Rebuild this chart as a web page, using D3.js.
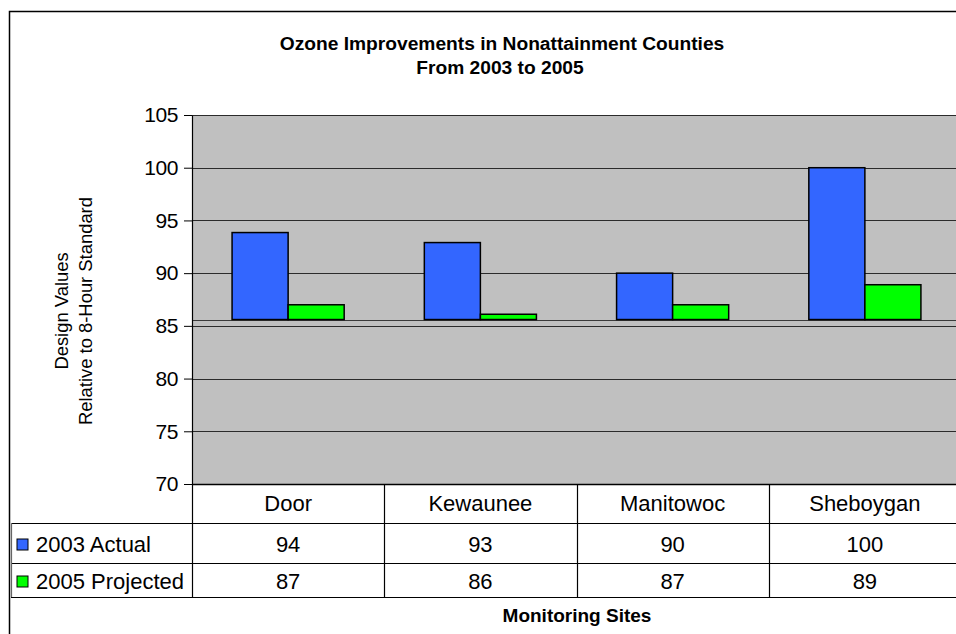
<!DOCTYPE html>
<html><head><meta charset="utf-8">
<script src="https://cdn.jsdelivr.net/npm/d3@7"></script>
<style>
html,body{margin:0;padding:0;background:#fff;}
svg{display:block;font-family:"Liberation Sans",Arial,sans-serif;}
</style></head>
<body>
<svg id="chart" width="956" height="634"></svg>
<script>
const categories = ["Door", "Kewaunee", "Manitowoc", "Sheboygan"];
const seriesNames = ["2003 Actual", "2005 Projected"];
const actual2003 = [93.85, 92.9, 90, 100];
const projected2005 = [87, 86.1, 87, 88.9];
const yTicks = [70, 75, 80, 85, 90, 95, 100, 105];
const axisCross = 85.6;
const seriesColors = ["#3366FF", "#00FF00"];
const seriesValues = [actual2003, projected2005];

const svg = d3.select("#chart");
const W = 956, H = 634;
const plot = {left: 192, right: 961, top: 115, bottom: 484};

// outer border
svg.append("path").attr("d", `M9.5,${H} L9.5,11.5 L${W},11.5`)
  .attr("fill", "none").attr("stroke", "#000").attr("stroke-width", 1.5);

// title
const title = svg.append("text").attr("text-anchor", "middle")
  .attr("font-weight", "bold").attr("font-size", 19.2);
title.append("tspan").attr("x", 502).attr("y", 50).text("Ozone Improvements in Nonattainment Counties");
title.append("tspan").attr("x", 500).attr("y", 74).text("From 2003 to 2005");

const x = d3.scaleBand().domain(categories).range([plot.left, plot.right]).padding(0);
const y = d3.scaleLinear().domain([70, 105]).range([plot.bottom, plot.top]);
const xs = d3.scaleBand().domain(seriesNames).range([0, x.bandwidth()])
  .paddingInner(0).paddingOuter(0.715);

// plot background
svg.append("rect").attr("x", plot.left).attr("y", plot.top)
  .attr("width", plot.right - plot.left).attr("height", plot.bottom - plot.top)
  .attr("fill", "#C0C0C0");

// gridlines
svg.append("g").selectAll("line").data(yTicks.filter(t => t > 70)).join("line")
  .attr("x1", plot.left).attr("x2", plot.right)
  .attr("y1", d => Math.round(y(d)) + 0.5).attr("y2", d => Math.round(y(d)) + 0.5)
  .attr("stroke", "#2b2b2b").attr("stroke-width", 1.2);

// category axis line at crossing value
svg.append("line").attr("x1", plot.left).attr("x2", plot.right)
  .attr("y1", Math.round(y(axisCross)) + 0.5).attr("y2", Math.round(y(axisCross)) + 0.5)
  .attr("stroke", "#3a3a3a").attr("stroke-width", 1.2);

// bars
const barData = [];
seriesNames.forEach((s, si) => categories.forEach((c, ci) =>
  barData.push({s, c, v: seriesValues[si][ci], color: seriesColors[si]})));
svg.append("g").selectAll("rect").data(barData).join("rect")
  .attr("x", d => x(d.c) + xs(d.s))
  .attr("width", xs.bandwidth())
  .attr("y", d => y(Math.max(d.v, axisCross)))
  .attr("height", d => Math.abs(y(d.v) - y(axisCross)))
  .attr("fill", d => d.color).attr("stroke", "#000").attr("stroke-width", 1.5);

// y axis
const yAxis = svg.append("g").attr("transform", `translate(${plot.left},0)`)
  .call(d3.axisLeft(y).tickValues(yTicks).tickSize(8).tickPadding(6).tickSizeOuter(0));
yAxis.select(".domain").attr("stroke", "#000").attr("stroke-width", 1.2);
yAxis.selectAll(".tick line").attr("stroke", "#000");
yAxis.selectAll("text").attr("font-size", 21).attr("letter-spacing", -0.4)
  .attr("fill", "#000").attr("font-family", "'Liberation Sans',Arial,sans-serif");

// plot bottom border
svg.append("line").attr("x1", plot.left).attr("x2", plot.right)
  .attr("y1", plot.bottom + 0.5).attr("y2", plot.bottom + 0.5)
  .attr("stroke", "#000").attr("stroke-width", 1.5);

// y-axis title
const yt = svg.append("text").attr("text-anchor", "middle").attr("font-size", 18.4)
  .attr("transform", "translate(0,311) rotate(-90)");
yt.append("tspan").attr("x", 0).attr("y", 68).text("Design Values");
yt.append("tspan").attr("x", 0).attr("y", 92).text("Relative to 8-Hour Standard");

// data table
const rowY = [484, 523, 563, 597];
const tableLeft = 11;
const tg = svg.append("g").attr("stroke", "#000").attr("stroke-width", 1.2);
[1, 2, 3].forEach(i => tg.append("line").attr("x1", tableLeft).attr("x2", plot.right)
  .attr("y1", rowY[i] + 0.5).attr("y2", rowY[i] + 0.5));
tg.append("line").attr("x1", tableLeft + 0.5).attr("x2", tableLeft + 0.5).attr("y1", rowY[1]).attr("y2", rowY[3])
  .attr("stroke", "#666");
tg.selectAll("line.sep").data(categories).join("line").attr("class", "sep")
  .attr("x1", d => Math.round(x(d)) + 0.5).attr("x2", d => Math.round(x(d)) + 0.5)
  .attr("y1", rowY[0]).attr("y2", rowY[3]);

const txt = svg.append("g").attr("font-size", 22).attr("fill", "#000");
txt.selectAll("text.cat").data(categories).join("text").attr("class", "cat")
  .attr("x", d => x(d) + x.bandwidth() / 2).attr("y", 511).attr("text-anchor", "middle").text(d => d);
seriesNames.forEach((s, si) => {
  const by = [552, 589][si];
  svg.append("rect").attr("x", 17).attr("y", by - 13).attr("width", 11).attr("height", 11)
    .attr("fill", seriesColors[si]).attr("stroke", "#000").attr("stroke-width", 1);
  txt.append("text").attr("x", 36).attr("y", by).text(s);
  txt.selectAll(null).data(categories).join("text")
    .attr("x", d => x(d) + x.bandwidth() / 2).attr("y", by).attr("text-anchor", "middle")
    .text((d, ci) => d3.format(".0f")(seriesValues[si][ci]));
});

// x-axis title
svg.append("text").attr("x", 577).attr("y", 622).attr("text-anchor", "middle")
  .attr("font-weight", "bold").attr("font-size", 19)
  .text("Monitoring Sites");
</script>
</body></html>
